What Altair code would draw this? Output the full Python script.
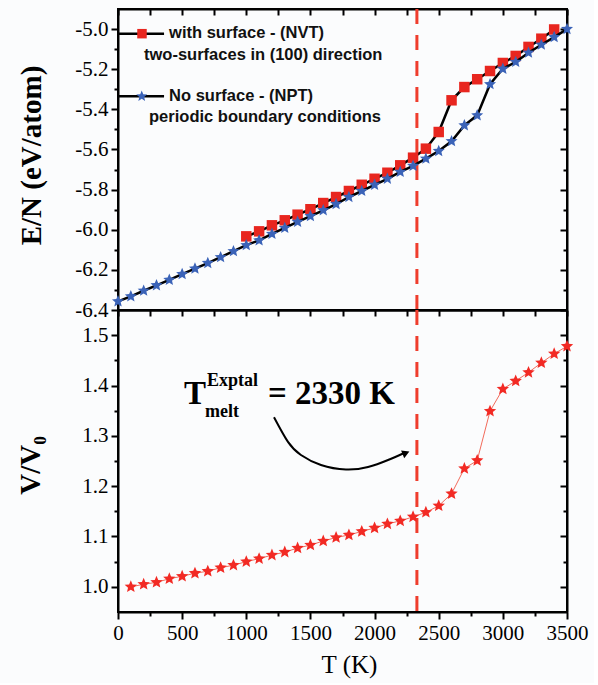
import math
import altair as alt
import pandas as pd

# ---------------- data ----------------
T_npt = list(range(0, 3600, 100))
E_npt = [-6.357, -6.332, -6.304, -6.277, -6.250, -6.221, -6.194, -6.166, -6.137, -6.107,
         -6.077, -6.053, -6.021, -5.991, -5.961, -5.932, -5.903, -5.872, -5.837, -5.807,
         -5.776, -5.746, -5.712, -5.682, -5.646, -5.608, -5.559, -5.480, -5.430, -5.275,
         -5.198, -5.164, -5.118, -5.078, -5.040, -5.000]

T_nvt = list(range(1000, 3500, 100))
E_nvt = [-6.033, -6.008, -5.978, -5.953, -5.925, -5.898, -5.867, -5.837, -5.807, -5.776,
         -5.746, -5.716, -5.679, -5.641, -5.596, -5.513, -5.355, -5.289, -5.250, -5.209,
         -5.169, -5.134, -5.089, -5.048, -5.002]

T_vol = list(range(100, 3600, 100))
V_vol = [1.000, 1.005, 1.009, 1.016, 1.021, 1.027, 1.031, 1.038, 1.043, 1.050,
         1.056, 1.063, 1.069, 1.077, 1.083, 1.091, 1.098, 1.103, 1.110, 1.117,
         1.125, 1.131, 1.139, 1.148, 1.161, 1.185, 1.235, 1.251, 1.349, 1.393,
         1.409, 1.426, 1.445, 1.463, 1.478]

T_MELT = 2330

# legend (in data units of the top panel)
leg_line_T = [8, 359, 8, 359]
leg_line_E = [-5.023, -5.023, -5.335, -5.335]
leg_line_g = ["a", "a", "b", "b"]
leg_text = ["with surface - (NVT)", "two-surfaces in (100) direction",
            "No surface - (NPT)", "periodic boundary conditions"]
leg_text_T = [398, 203, 398, 242]
leg_text_E = [-5.022, -5.131, -5.335, -5.438]

# annotation (in data units of the bottom panel)
ann_big = ["T", "= 2330 K"]
ann_big_T = [514, 1169]
ann_big_V = [1.364, 1.364]
ann_small = ["Exptal", "melt"]
ann_small_T = [694, 678]
ann_small_V = [1.399, 1.337]
arrow_T = [1216, 1325, 1426, 1582, 1777, 1949, 2105, 2222]
arrow_V = [1.337, 1.288, 1.262, 1.242, 1.233, 1.238, 1.252, 1.265]

# ---------------- frames ----------------
df_npt = pd.DataFrame({"T": T_npt, "E": E_npt})
df_nvt = pd.DataFrame({"T": T_nvt, "E": E_nvt})
df_vol = pd.DataFrame({"T": T_vol, "V": V_vol})
df_melt = pd.DataFrame({"T": [T_MELT]})
df_leg_line = pd.DataFrame({"T": leg_line_T, "E": leg_line_E, "g": leg_line_g})
df_leg_sq = pd.DataFrame({"T": [187], "E": [-5.023]})
df_leg_st = pd.DataFrame({"T": [185], "E": [-5.335]})
df_leg_text = pd.DataFrame({"T": leg_text_T, "E": leg_text_E, "t": leg_text})
df_ann_big = pd.DataFrame({"T": ann_big_T, "V": ann_big_V, "t": ann_big})
df_ann_small = pd.DataFrame({"T": ann_small_T, "V": ann_small_V, "t": ann_small})
df_arrow = pd.DataFrame({"T": arrow_T, "V": arrow_V})
df_head = pd.DataFrame({"T": [2245], "V": [1.266]})

# five-pointed star symbol path in the unit square
_pts = []
for k in range(10):
    r = 1.0 if k % 2 == 0 else 0.45
    a = math.radians(-90 + 36 * k)
    _pts.append(f"{r * math.cos(a):.3f},{r * math.sin(a):.3f}")
STAR = "M" + "L".join(_pts) + "Z"

W = 449
H_TOP = 301
H_BOT = 302

RED_SQ = "#e8261f"
BLUE = "#3b63b8"
RED_ST = "#f22a24"
DASH_RED = "#ef3d2d"
SERIF = "Liberation Serif"

x_scale = alt.Scale(domain=[0, 3500], nice=False, zero=False)
yE = alt.Scale(domain=[-6.4, -4.9], nice=False, zero=False)
yV = alt.Scale(domain=[0.95, 1.55], nice=False, zero=False)

x_vals = list(range(0, 3750, 250))
yE_vals = [round(-6.4 + 0.1 * i, 1) for i in range(15)]
yV_vals = [round(1.0 + 0.05 * i, 2) for i in range(11)]

x_major = "datum.value % 500 == 0"
yE_major = "abs(round(datum.value*10)) % 2 == 0"
yV_major = "round(datum.value*100) % 10 == 0"


def cond(test, a, b):
    return {"condition": {"test": test, "value": a}, "value": b}


common = dict(labelFont=SERIF, labelFontSize=21, labelColor="black", labelPadding=3,
              labelFlush=False, labelOverlap=False,
              titleFont=SERIF, titleColor="black", domainColor="black", domainWidth=2,
              tickColor="black", tickWidth=2, grid=False)

ax_x_bottom = alt.Axis(values=x_vals, format="d",
                       labelExpr=f"{x_major} ? datum.label : ''",
                       tickSize=cond(x_major, 7, 4),
                       title="T (K)", titleFontSize=25, titleFontWeight="normal",
                       titleX=231, titleY=52, titleBaseline="middle", titleAlign="center",
                       **common)
ax_x_top_none = alt.Axis(values=x_vals, labels=False, ticks=False, title=None, **common)
ax_x_mirror = alt.Axis(orient="top", values=x_vals, labels=False,
                       tickSize=cond("true", -6, -6), title=None, **common)

ax_yE_left = alt.Axis(values=yE_vals,
                      labelExpr=f"{yE_major} ? ((datum.value < 0 ? '-' : '') + format(abs(datum.value), '.1f')) : ''",
                      tickSize=cond(yE_major, 7, 4),
                      title="E/N (eV/atom)", titleFontSize=29, titleFontWeight="bold",
                      titleAngle=270, titleX=-87, titleY=146,
                      titleAlign="center", titleBaseline="middle", **common)
ax_yE_right = alt.Axis(orient="right", values=yE_vals, labels=False,
                       tickSize=cond(yE_major, -7, -4), title=None, **common)

ax_yV_left = alt.Axis(values=yV_vals,
                      labelExpr=f"{yV_major} ? format(datum.value, '.1f') : ''",
                      tickSize=cond(yV_major, 7, 4),
                      title="V/V₀", titleFontSize=29, titleFontWeight="bold",
                      titleAngle=270, titleX=-88, titleY=155,
                      titleAlign="center", titleBaseline="middle", **common)
ax_yV_right = alt.Axis(orient="right", values=yV_vals, labels=False,
                       tickSize=cond(yV_major, -7, -4), title=None, **common)


def xq(axis=None):
    return alt.X("T:Q", scale=x_scale, axis=axis)


def yEq(axis=None):
    return alt.Y("E:Q", scale=yE, axis=axis)


def yVq(axis=None):
    return alt.Y("V:Q", scale=yV, axis=axis)


# ---------------- top panel ----------------
melt_top = alt.Chart(df_melt).mark_rule(color=DASH_RED, strokeWidth=3, strokeDash=[15, 11]).encode(
    x=xq(ax_x_top_none))
nvt_line = alt.Chart(df_nvt).mark_line(color="black", strokeWidth=2.5).encode(
    x=xq(), y=yEq(ax_yE_left))
nvt_pts = alt.Chart(df_nvt).mark_point(shape="square", filled=True, color=RED_SQ,
                                       size=110, opacity=1).encode(x=xq(), y=yEq())
npt_line = alt.Chart(df_npt).mark_line(color="black", strokeWidth=2.5).encode(x=xq(), y=yEq())
npt_pts = alt.Chart(df_npt).mark_point(shape=STAR, filled=True, color=BLUE,
                                       size=160, opacity=1).encode(x=xq(), y=yEq())
mirror_top = alt.Chart(df_npt).mark_point(opacity=0).encode(
    x=xq(ax_x_mirror), y=yEq(ax_yE_right))

leg_lines = alt.Chart(df_leg_line).mark_line(color="black", strokeWidth=2.5).encode(
    x=xq(), y=yEq(), detail="g:N")
leg_sq = alt.Chart(df_leg_sq).mark_point(shape="square", filled=True, color=RED_SQ,
                                         size=90, opacity=1).encode(x=xq(), y=yEq())
leg_st = alt.Chart(df_leg_st).mark_point(shape=STAR, filled=True, color=BLUE,
                                         size=130, opacity=1).encode(x=xq(), y=yEq())
leg_txt = alt.Chart(df_leg_text).mark_text(align="left", baseline="middle", font="Liberation Sans",
                                           fontWeight="bold", fontSize=16.5, color="#111111").encode(
    x=xq(), y=yEq(), text="t:N")

top = alt.layer(melt_top, nvt_line, nvt_pts, npt_line, npt_pts, mirror_top,
                leg_lines, leg_sq, leg_st, leg_txt).resolve_axis(
    x="independent", y="independent").properties(width=W, height=H_TOP)

# ---------------- bottom panel ----------------
melt_bot = alt.Chart(df_melt).mark_rule(color=DASH_RED, strokeWidth=3, strokeDash=[15, 11]).encode(
    x=xq(ax_x_bottom))
vol_line = alt.Chart(df_vol).mark_line(color="#f26b5b", strokeWidth=1).encode(
    x=xq(), y=yVq(ax_yV_left))
vol_pts = alt.Chart(df_vol).mark_point(shape=STAR, filled=True, color=RED_ST,
                                       size=170, opacity=1).encode(x=xq(), y=yVq())
mirror_bot = alt.Chart(df_vol).mark_point(opacity=0).encode(
    x=xq(ax_x_mirror), y=yVq(ax_yV_right))
ann_b = alt.Chart(df_ann_big).mark_text(align="left", baseline="alphabetic", font=SERIF,
                                        fontWeight="bold", fontSize=33, color="black").encode(
    x=xq(), y=yVq(), text="t:N")
ann_s = alt.Chart(df_ann_small).mark_text(align="left", baseline="alphabetic", font=SERIF,
                                          fontWeight="bold", fontSize=18, color="black").encode(
    x=xq(), y=yVq(), text="t:N")
arrow = alt.Chart(df_arrow).mark_line(color="black", strokeWidth=2, interpolate="natural").encode(
    x=xq(), y=yVq())
head = alt.Chart(df_head).mark_point(shape="triangle-right", filled=True, color="black",
                                     size=70, angle=338, opacity=1).encode(x=xq(), y=yVq())

bottom = alt.layer(melt_bot, vol_line, vol_pts, mirror_bot, ann_b, ann_s, arrow, head).resolve_axis(
    x="independent", y="independent").properties(width=W, height=H_BOT)

chart = alt.vconcat(top, bottom, spacing=0, bounds="flush").properties(
    padding={"left": 15, "top": 6, "right": 5, "bottom": 5},
    background="#fbfcfd",
).configure_view(stroke="black", strokeWidth=2).configure_axis(
    labelFont=SERIF, titleFont=SERIF, labelFontSize=21, grid=False,
)

chart.save("out.html", embed_options={"renderer": "svg", "actions": False})
